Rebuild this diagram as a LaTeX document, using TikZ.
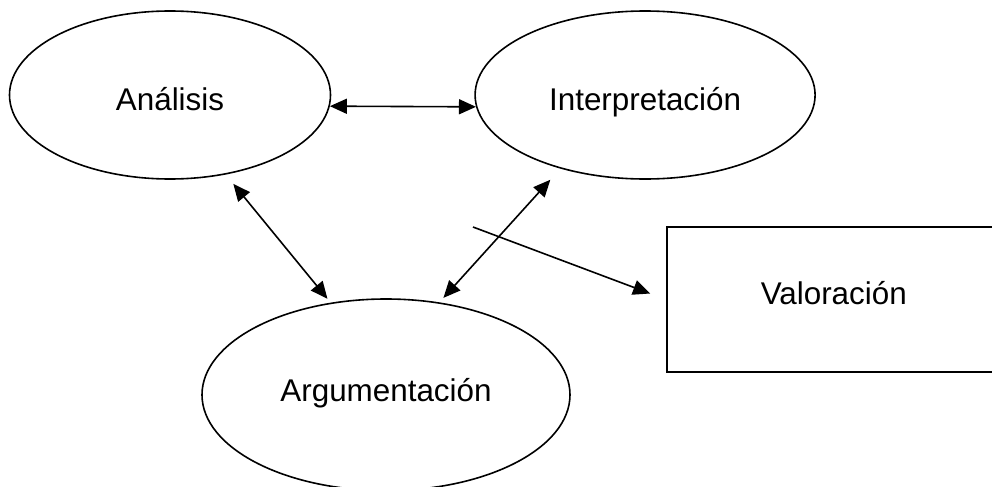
\documentclass[tikz,border=0pt]{standalone}
\usepackage{fontspec}
\setmainfont{Liberation Sans}
\usetikzlibrary{arrows.meta,positioning,shapes.geometric}

\begin{document}
\begin{tikzpicture}[
  oval/.style={draw,ellipse,line width=0.8pt,inner sep=0pt,text depth=0pt,
               font=\fontsize{15.7}{18}\selectfont},
  box/.style={draw,rectangle,line width=0.8pt,inner sep=0pt,text depth=0pt,
              font=\fontsize{15.7}{18}\selectfont},
  arr/.style={-{Triangle[length=8.5pt,width=7.5pt]},line width=0.8pt},
  dbl/.style={{Triangle[length=8.5pt,width=7.5pt]}-{Triangle[length=8.5pt,width=7.5pt]},
              line width=0.8pt}
]
\clip (0,0) rectangle (496pt,-243.5pt);
\useasboundingbox (0,0) rectangle (496pt,-243.5pt);

% top row
\node[oval,minimum width=160.5pt,minimum height=84pt,text height=15pt] (ana) at (85pt,-47.5pt) {Análisis};
\node[oval,minimum width=170pt,minimum height=84pt,text height=15pt,right=71.5pt of ana] (int) {Interpretación};

% bottom
\node[oval,minimum width=184pt,minimum height=95.8pt,text height=6.3pt] (arg) at (193pt,-197.4pt) {Argumentación};
\node[box,minimum width=167pt,minimum height=72.5pt,text height=4.6pt,anchor=west] (val) at (333pt,-149.75pt) {Valoración};
\coordinate (from) at (236.5pt,-113.5pt);

\draw[dbl] (ana.-4.3) -- (int.184.1);
\draw[dbl,shorten <=6pt,shorten >=2.5pt] (ana.-55) -- (arg.121);
\draw[dbl,shorten <=7.5pt,shorten >=3pt] (int.-139) -- (arg.60);
\draw[arr,shorten >=8.5pt] (from) -- (val.west);
\end{tikzpicture}
\end{document}
